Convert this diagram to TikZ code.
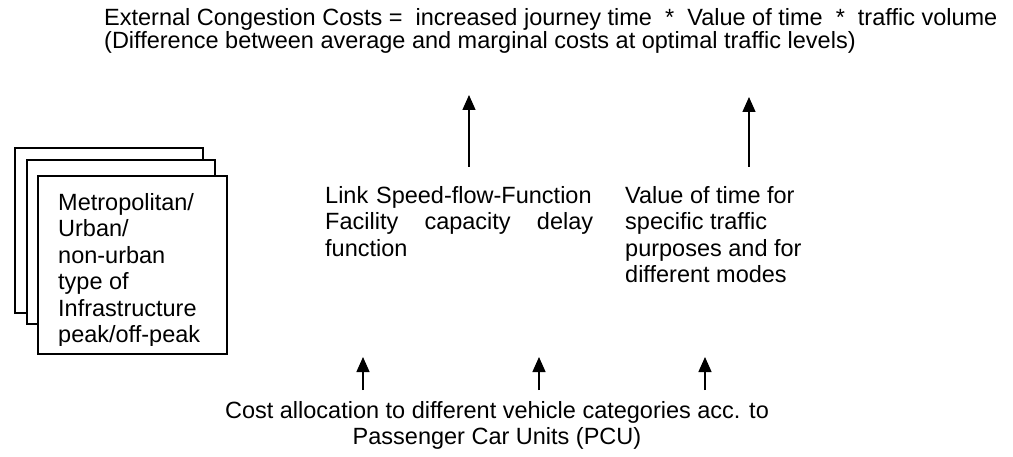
\documentclass[tikz,border=0pt]{standalone}
\usepackage{fontspec}
\setmainfont{Liberation Sans}
\usetikzlibrary{arrows.meta,positioning}

\begin{document}
\begin{tikzpicture}[x=1pt,y=-1pt,>={Triangle[length=15pt,width=13pt]},
   txt/.style={inner sep=0pt,align=left,anchor=north west,font=\fontsize{23.5}{26.5}\selectfont},
   sheet/.style={draw,line width=2pt,fill=white,anchor=north west,inner sep=0pt},
   up/.style={->,line width=1.4pt}]
  \useasboundingbox (0,0) rectangle (1013,457);

  % headline formula
  \node[txt,font=\fontsize{23.5}{23}\selectfont] (cost) at (104,8)
     {External Congestion Costs =\ \ increased journey time\ \ *\ \ Value of time\ \ *\ \ traffic volume\\
      (Difference between average and marginal costs at optimal traffic levels)};

  % stacked sheets on the left
  \node[sheet,minimum width=188pt,minimum height=165pt] (back) at (14,147) {};
  \node[sheet,minimum width=188pt,minimum height=164pt] (mid) at (26,159) {};
  \node[sheet,minimum width=189pt,minimum height=178pt] (front) at (37,175) {};
  \begin{scope}
    \clip (front.north west) rectangle ([yshift=9pt]front.south east);
    \node[txt] (infra) at (58,193)
       {Metropolitan/\\Urban/\\non-urban\\type of\\Infrastructure\\peak/off-peak};
  \end{scope}

  % the two factors
  \node[txt,text width=268pt] (link) at (325,186)
     {Link Speed-flow-Function\\
      Facility\hfill capacity\hfill delay\\
      function};
  \node[txt] (vot) at (625,186)
     {Value of time for\\specific traffic\\purposes and for\\different modes};

  % allocation line at the bottom
  \node[txt,anchor=north,align=center] (pcu) at (497,401)
     {Cost allocation to different vehicle categories acc. to\\Passenger Car Units (PCU)};

  \coordinate (tipL) at (469,95);
  \coordinate (tipV) at (749,97);
  \draw[up,shorten <=19pt] (link.north -| tipL) -- (tipL);
  \draw[up,shorten <=19pt] (vot.north -| tipV) -- (tipV);

  \foreach \nm/\x in {tipA/363,tipB/539,tipC/705}{
     \coordinate (\nm) at (\x,357);
     \draw[up,shorten <=11pt] (pcu.north -| \nm) -- (\nm);}
\end{tikzpicture}
\end{document}
